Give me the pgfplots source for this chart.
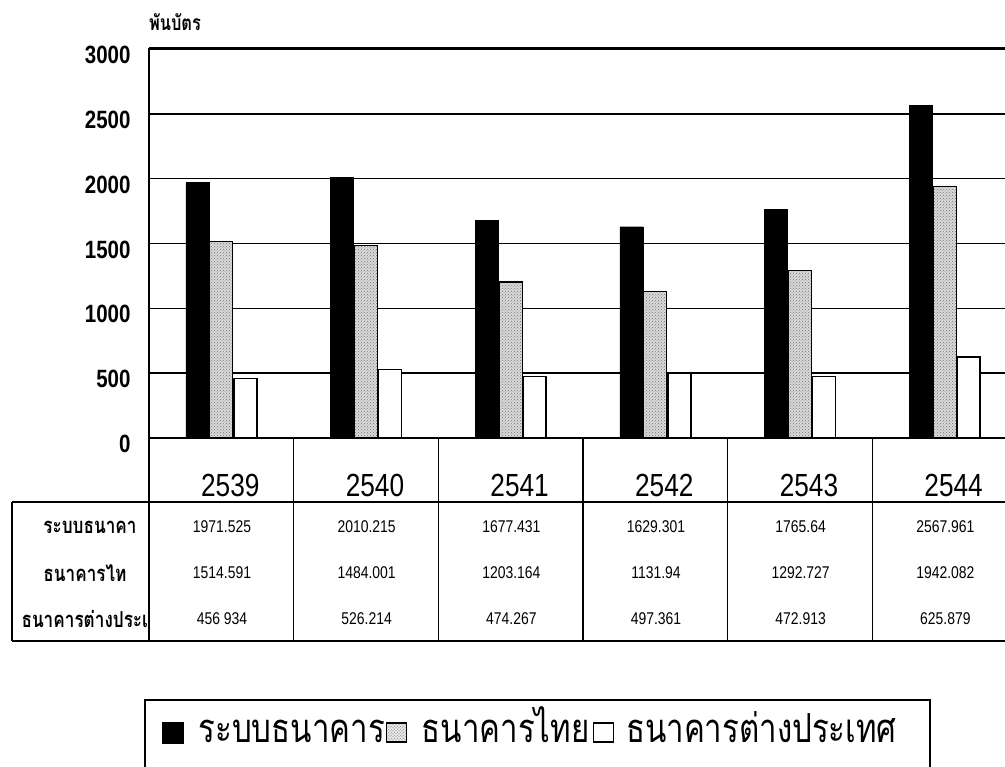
\documentclass[border=0pt]{standalone}
\usepackage{pgfplots}
\pgfplotsset{compat=1.18}
\usetikzlibrary{patterns}
\usepackage{fontspec}
\setmainfont{Liberation Sans}
\newfontfamily\narrow{Liberation Sans}[FakeStretch=0.82]
\newfontfamily\thai[Script=Thai]{Loma}
\newfontfamily\thainarrow[Script=Thai, FakeStretch=0.78]{Loma}
\newcommand\tickfont{\narrow\bfseries\fontsize{25}{25}\selectfont}
\newcommand\yearfont{\narrow\fontsize{32}{32}\selectfont}
\newcommand\valfont{\narrow\fontsize{17}{17}\selectfont}
\newcommand\rowfont{\thainarrow\bfseries\fontsize{22}{22}\selectfont}
\newcommand\legfont{\thainarrow\fontsize{40}{40}\selectfont}

\pgfplotstableread{
x  bank     thai      foreign
0  1971.525 1514.591  456.934
1  2010.215 1484.001  526.214
2  1677.431 1203.164  474.267
3  1629.301 1131.94   497.361
4  1765.64  1292.727  472.913
5  2567.961 1942.082  625.879
}\data

\begin{document}
\begin{tikzpicture}[x=1pt,y=1pt]
\useasboundingbox (0,0) rectangle (1005,767);
\clip (0,0) rectangle (1005,767);
\begin{axis}[
  at={(149pt,329pt)}, anchor=south west,
  width=868pt, height=389pt, scale only axis,
  xmin=-0.5, xmax=5.5, ymin=0, ymax=3000,
  ybar, bar width=23pt,
  xtick={0,1,2,3,4,5}, xticklabels={2539,2540,2541,2542,2543,2544},
  xticklabel style={font=\yearfont, anchor=base, yshift=-59pt, xshift=9pt},
  ytick={0,500,...,3000},
  /pgf/number format/assume math mode=true,
  /pgf/number format/1000 sep={},
  yticklabel style={font=\tickfont, anchor=east, xshift=-15pt, yshift=-6pt},
  major tick length=0pt,
  ymajorgrids, grid style={black, line width=1.4pt},
  axis line style={black, line width=1.4pt},
  extra y ticks={3000}, extra y tick labels={},
  extra y tick style={grid style={black, line width=3pt}},
  legend columns=3,
  legend style={at={(axis description cs:0.0150,-0.7584)}, anchor=west,
    draw=none, fill=none, inner sep=0pt, font=\legfont,
    nodes={inner sep=0pt, text height=24pt, text depth=6pt}},
  clip=false,
]
\addplot[fill=black, draw=black, bar shift=-24pt,
  legend image code/.code={\draw[fill=black,draw=black] (0pt,-10pt) rectangle (21pt,11pt);}]
  table[x=x, y=bank] {\data};
\addlegendentry{\hspace{15pt}\makebox[187pt][l]{ระบบธนาคาร}}
\addplot[fill=black!15, draw=black, line width=1.2pt, bar shift=0pt,
  postaction={pattern=crosshatch dots, pattern color=black!55},
  legend image code/.code={\draw[fill=black!8,draw=black,line width=1.2pt,postaction={pattern=crosshatch dots, pattern color=black!35}] (0pt,-9pt) rectangle (20pt,10pt);}]
  table[x=x, y=thai] {\data};
\addlegendentry{\hspace{15pt}\makebox[171pt][l]{ธนาคารไทย}}
\addplot[fill=white, draw=black, line width=1.4pt, bar shift=24pt,
  legend image code/.code={\draw[fill=white,draw=black,line width=1.4pt] (0pt,-9pt) rectangle (20pt,10pt);}]
  table[x=x, y=foreign] {\data};
\addlegendentry{\hspace{12pt}ธนาคารต่างประเทศ}
\end{axis}

% legend frame
\draw[line width=1.5pt] (145,-10) -- (145,67) -- (930,67) -- (930,-10);

% y-axis unit label
\node[font=\thainarrow\bfseries\fontsize{21}{21}\selectfont] at (175,745) {พันบัตร};

% data table frame
\begin{scope}[line width=1.4pt]
\foreach \k in {0,...,6} {\draw (149+144.67*\k,329) -- (149+144.67*\k,126);}
\draw (12,265) -- (1010,265);
\draw (12,126) -- (1010,126);
\draw (12,265) -- (12,126);
\end{scope}

% row labels
\node[font=\rowfont] at (90,240) {ระบบธนาคา};
\node[font=\rowfont] at (85,194) {ธนาคารไท};
\begin{scope}
\clip (12,126) rectangle (149,265);
\node[font=\rowfont, anchor=west] at (18,148) {ธนาคารต่างประเทศ};
\end{scope}

% values
\foreach \v [count=\i from 0] in {1971.525,2010.215,1677.431,1629.301,1765.64,2567.961}
  \node[font=\valfont] at (222+144.67*\i,240) {\v};
\foreach \v [count=\i from 0] in {1514.591,1484.001,1203.164,1131.94,1292.727,1942.082}
  \node[font=\valfont] at (222+144.67*\i,194) {\v};
\foreach \v [count=\i from 0] in {456 934,526.214,474.267,497.361,472.913,625.879}
  \node[font=\valfont] at (222+144.67*\i,148) {\v};
\end{tikzpicture}
\end{document}
